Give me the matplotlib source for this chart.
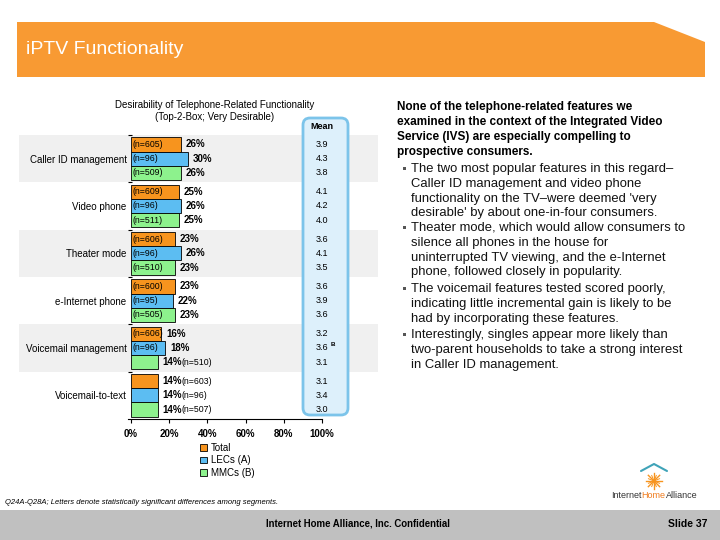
import matplotlib
matplotlib.use("Agg")
import matplotlib.pyplot as plt
from matplotlib.patches import Rectangle, Polygon, FancyBboxPatch
import matplotlib.transforms as mtransforms
import numpy as np

plt.rcParams['font.family'] = ['Liberation Sans', 'DejaVu Sans']

# ---------------- data ----------------
categories = ["Caller ID management", "Video phone", "Theater mode",
              "e-Internet phone", "Voicemail management", "Voicemail-to-text"]
series_names = ["Total", "LECs (A)", "MMCs (B)"]
total_pct = [26, 25, 23, 23, 16, 14]
lecs_pct = [30, 26, 26, 22, 18, 14]
mmcs_pct = [26, 25, 23, 23, 14, 14]
total_n = [605, 609, 606, 600, 606, 603]
lecs_n = [96, 96, 96, 95, 96, 96]
mmcs_n = [509, 511, 510, 505, 510, 507]
total_mean = [3.9, 4.1, 3.6, 3.6, 3.2, 3.1]
lecs_mean = [4.3, 4.2, 4.1, 3.9, 3.6, 3.4]
mmcs_mean = [3.8, 4.0, 3.5, 3.6, 3.1, 3.0]
lecs_sig = ["", "", "", "", "B", ""]
x_ticks = [0, 20, 40, 60, 80, 100]
x_tick_labels = ["0%", "20%", "40%", "60%", "80%", "100%"]

colors = ["#F7941E", "#5CBDF2", "#8DF28D"]

W, H = 720, 540
fig = plt.figure(figsize=(7.2, 5.4), dpi=100)
bg = fig.add_axes([0, 0, 1, 1], zorder=0)
bg.set_xlim(0, W)
bg.set_ylim(H, 0)
bg.axis('off')

# header band
bg.add_patch(Polygon([(17, 22), (654, 22), (705, 42), (705, 77), (17, 77)],
                     closed=True, facecolor="#F89A33", edgecolor="none"))
bg.text(26, 50, "iPTV Functionality", color="white", fontsize=14,
        va="center", ha="left")

# footer band
bg.add_patch(Rectangle((0, 510), W, 30, facecolor="#C0C0C0", edgecolor="none"))
bg.text(358, 524, "Internet Home Alliance, Inc. Confidential", fontsize=6.9,
        fontweight="bold", ha="center", va="center")
bg.text(708, 524, "Slide 37", fontsize=7.5, fontweight="bold", ha="right", va="center")
bg.text(5, 502, "Q24A-Q28A; Letters denote statistically significant differences among segments.",
        fontsize=5.5, style="italic", ha="left", va="center")

# logo
bg.plot([641, 654, 667], [471, 464, 471], color="#3FA3B8", lw=1.5, solid_capstyle="round")
for ang in np.linspace(0, np.pi, 4, endpoint=False):
    dx, dy = 8 * np.cos(ang), 8 * np.sin(ang)
    bg.plot([654 - dx, 654 + dx], [481 - dy, 481 + dy], color="#F7941E", lw=1.0)
for ang in np.linspace(np.pi / 8, np.pi + np.pi / 8, 4, endpoint=False):
    dx, dy = 6 * np.cos(ang), 6 * np.sin(ang)
    bg.plot([654 - dx, 654 + dx], [481 - dy, 481 + dy], color="#F7941E", lw=0.7)
t1 = bg.text(611, 495, "Internet", fontsize=6.5, ha="left", va="center", color="#333333")
t2 = bg.annotate("Home", xy=(1, 0), xycoords=t1, ha="left", va="bottom",
                 fontsize=6.5, color="#F07C1E")
bg.annotate("Alliance", xy=(1, 0), xycoords=t2, ha="left", va="bottom",
            fontsize=6.5, color="#333333")

# chart title
bg.text(215, 105, "Desirability of Telephone-Related Functionality", fontsize=7,
        ha="center", va="center")
bg.text(215, 117, "(Top-2-Box; Very Desirable)", fontsize=7, ha="center", va="center")

# right-hand text
bold_lines = ["None of the telephone-related features we",
              "examined in the context of the Integrated Video",
              "Service (IVS) are especially compelling to",
              "prospective consumers."]
for k, line in enumerate(bold_lines):
    bg.text(397, 107 + 15 * k, line, fontsize=8.5, fontweight="bold", ha="left", va="center")

bullets = [
    ["The two most popular features in this regard\u2013",
     "Caller ID management and video phone",
     "functionality on the TV\u2013were deemed 'very",
     "desirable' by about one-in-four consumers."],
    ["Theater mode, which would allow consumers to",
     "silence all phones in the house for",
     "uninterrupted TV viewing, and the e-Internet",
     "phone, followed closely in popularity."],
    ["The voicemail features tested scored poorly,",
     "indicating little incremental gain is likely to be",
     "had by incorporating these features."],
    ["Interestingly, singles appear more likely than",
     "two-parent households to take a strong interest",
     "in Caller ID management."],
]
bullet_y = [169, 228, 289, 335]
for by, lines in zip(bullet_y, bullets):
    bg.add_patch(Rectangle((403, by - 2), 3.2, 3.2, facecolor="#555555", edgecolor="none"))
    for k, line in enumerate(lines):
        bg.text(411, by + 14.8 * k, line, fontsize=9.4, ha="left", va="center", color="#111111")

# ---------------- chart ----------------
left_px, right_px, top_px, bot_px = 128, 322, 135, 419
ax = fig.add_axes([left_px / W, 1 - bot_px / H, (right_px - left_px) / W,
                   (bot_px - top_px) / H], zorder=1)
ax.set_facecolor("none")
ngroups = len(categories)
ax.set_xlim(-1.5, 100)
ax.set_ylim(ngroups, 0)

blend = mtransforms.blended_transform_factory(bg.transData, ax.transData)
for i in range(0, ngroups, 2):
    ax.add_patch(Rectangle((19, i), 359, 1, transform=blend, facecolor="#F0F0F0",
                           edgecolor="none", clip_on=False, zorder=0))

# mean box
ax.add_patch(FancyBboxPatch((303, 118), 45, 297,
                            boxstyle="round,pad=0,rounding_size=7",
                            transform=bg.transData, facecolor="#DDF0FB",
                            edgecolor="#7CC4EA", lw=2, clip_on=False, zorder=0.5))

offsets = [-0.3, 0.0, 0.3]
pcts = [total_pct, lecs_pct, mmcs_pct]
ns = [total_n, lecs_n, mmcs_n]
means = [total_mean, lecs_mean, mmcs_mean]
centers = np.arange(ngroups) + 0.5
handles = []
for s in range(3):
    ys = centers + offsets[s]
    b = ax.barh(ys, pcts[s], height=0.3, color=colors[s], edgecolor="black",
                lw=0.6, zorder=2, label=series_names[s])
    handles.append(b)
    for y, v, n, m in zip(ys, pcts[s], ns[s], means[s]):
        pt = ax.annotate(f"{v}%", xy=(v, y), xytext=(3.5, 0), textcoords="offset points",
                         fontsize=7, fontweight="bold", ha="left", va="center", zorder=3)
        if v >= 15:
            ax.text(1.0, y, f"(n={n})", fontsize=6.3, ha="left", va="center", zorder=3)
        else:
            ax.annotate(f"(n={n})", xy=(1, 0.5), xycoords=pt, fontsize=6.3,
                        ha="left", va="center", zorder=3)
        mt = ax.text(100, y, f"{m:.1f}", fontsize=6.5, ha="center", va="center", zorder=3)
        if s == 1:
            sig = lecs_sig[int(y)]
            if sig:
                ax.annotate(sig, xy=(1, 0.6), xycoords=mt, xytext=(2, 0),
                            textcoords="offset points", fontsize=4.5,
                            fontweight="bold", ha="left", va="bottom", zorder=3)

ax.text(100, -0.18, "Mean", fontsize=6.5, fontweight="bold", ha="center", va="center")

# axes styling
for sp in ["top", "right", "left"]:
    ax.spines[sp].set_visible(False)
ax.spines["bottom"].set_linewidth(0.8)
ax.set_xticks(x_ticks)
ax.set_xticklabels(x_tick_labels, fontsize=7, fontweight="bold")
ax.tick_params(axis="x", length=3, width=0.8, pad=4)
ax.set_yticks(centers)
ax.set_yticklabels(categories, fontsize=7)
ax.tick_params(axis="y", which="major", length=0, pad=1)
ax.set_yticks(np.arange(ngroups), minor=True)
ax.tick_params(axis="y", which="minor", length=3, width=0.8, direction="in")

fig.legend(handles=handles, labels=series_names, loc="upper left",
           bbox_to_anchor=(200 / W, 1 - 443 / H), frameon=False, fontsize=7,
           handlelength=0.7, handleheight=0.7, handletextpad=0.4,
           labelspacing=0.25, borderaxespad=0, borderpad=0)

fig.savefig("out.png", dpi=100)
